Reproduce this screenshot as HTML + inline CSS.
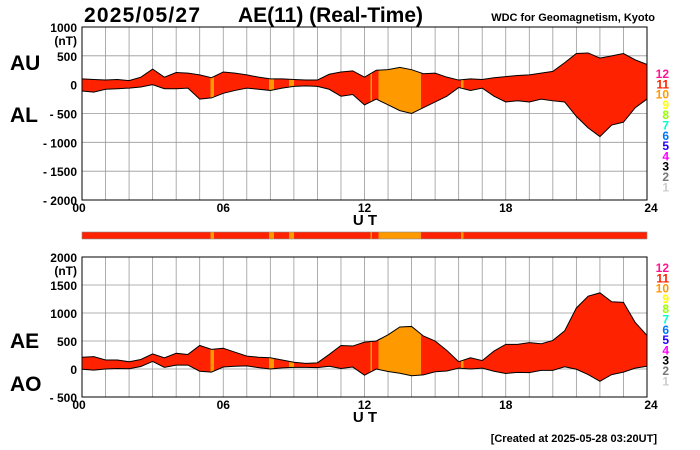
<!DOCTYPE html>
<html><head><meta charset="utf-8"><style>
body{margin:0;background:#fff}
svg{display:block;font-family:"Liberation Sans",Arial,sans-serif}
</style></head><body>
<svg id="c" width="700" height="450" viewBox="0 0 700 450"></svg>
<script>
const hours=[0,0.5,1,1.5,2,2.5,3,3.5,4,4.5,5,5.5,6,6.5,7,7.5,8,8.5,9,9.5,10,10.5,11,11.5,12,12.5,13,13.5,14,14.5,15,15.5,16,16.5,17,17.5,18,18.5,19,19.5,20,20.5,21,21.5,22,22.5,23,23.5,24];
const auValues=[100,90,80,90,70,130,270,130,210,200,170,120,220,200,170,130,100,100,90,80,80,180,220,240,130,250,260,300,260,190,200,130,80,100,90,120,140,160,170,200,230,380,540,550,460,500,540,430,350];
const alValues=[-110,-130,-80,-70,-60,-40,0,-70,-70,-60,-250,-230,-150,-100,-60,-80,-100,-60,-30,-20,-30,-80,-200,-170,-350,-250,-350,-450,-500,-400,-300,-200,-50,-100,-60,-200,-300,-280,-300,-250,-280,-300,-550,-750,-900,-700,-650,-400,-250];
const orangeStart=[5.45,7.95,8.8,12.25,12.6,16.1];
const orangeEnd=[5.6,8.15,9.0,12.32,14.4,16.2];
const topTicks=[1000,500,0,-500,-1000,-1500,-2000];
const botTicks=[2000,1500,1000,500,0,-500];
const xTicks=[0,6,12,18,24];
const xTickLabels=["00","06","12","18","24"];
const legendNums=[12,11,10,9,8,7,6,5,4,3,2,1];
const legendCols=["#ff1493","#ff2200","#ff9900","#ffff00","#99ff00","#00ffcc","#0077ff","#2200ff","#ff00ff","#000","#777","#ccc"];

const NS="http://www.w3.org/2000/svg", svg=document.getElementById('c');
const X0=82,X1=647;
const x=h=>X0+(X1-X0)*h/24;
function el(t,a,p){const e=document.createElementNS(NS,t);for(const k in a)e.setAttribute(k,a[k]);(p||svg).appendChild(e);return e;}
function txt(s,a){const e=el('text',a);e.textContent=s;return e;}

const defs=el('defs',{});
const g=el('linearGradient',{id:'seg',gradientUnits:'userSpaceOnUse',x1:X0,x2:X1,y1:0,y2:0},defs);
let stops=[];
orangeStart.forEach((s,i)=>{stops.push([s/24,'#ff2200'],[s/24,'#ff9900'],[orangeEnd[i]/24,'#ff9900'],[orangeEnd[i]/24,'#ff2200']);});
stops=[[0,'#ff2200']].concat(stops,[[1,'#ff2200']]);
stops.forEach(s=>el('stop',{offset:s[0],'stop-color':s[1]},g));

function panel(name,yTop,yBot,vTop,vBot,ticks,upper,lower,lab1,lab2,ly1,ly2,legTop){
  const y=v=>yTop+(vTop-v)*(yBot-yTop)/(vTop-vBot);
  const grp=el('g',{});
  
  
  for(let h=0;h<=24;h++) el('line',{x1:x(h),x2:x(h),y1:yTop,y2:yBot,stroke:'#999','stroke-width':0.8},grp);
  ticks.forEach(t=>{
    el('line',{x1:X0,x2:X1,y1:y(t),y2:y(t),stroke:'#999','stroke-width':0.8},grp);
    const tl=txt((t<0?'- '+(-t):''+t),{x:X0-5,y:y(t)+5,'text-anchor':'end','font-size':12,'font-weight':'bold'});
    
    
  });
  txt('(nT)',{x:X0-5,y:y(ticks[0])+18,'text-anchor':'end','font-size':12,'font-weight':'bold'});
  const up=hours.map((h,i)=>x(h)+','+y(upper[i]));
  const lo=hours.map((h,i)=>x(h)+','+y(lower[i])).reverse();
  const area=el('polygon',{points:up.concat(lo).join(' '),fill:'url(#seg)',stroke:'none'},grp);
  
  
  const l1=el('polyline',{points:up.join(' '),fill:'none',stroke:'#000','stroke-width':1},grp);
  
  
  const l2=el('polyline',{points:lo.join(' '),fill:'none',stroke:'#000','stroke-width':1},grp);
  
  
  el('rect',{x:X0,y:yTop,width:X1-X0,height:yBot-yTop,fill:'none',stroke:'#000','stroke-width':1},grp);
  xTicks.forEach((t,i)=>{
    const xl=txt(xTickLabels[i],{x:x(t)+(i==0?-3:i==4?4:0),y:yBot+12,'text-anchor':'middle','font-size':12,'font-weight':'bold'});
    
    
  });
  const ut=txt('U T',{x:365,y:yBot+25,'text-anchor':'middle','font-size':15,'font-weight':'bold'});
  
  
  const a1=txt(lab1,{x:10,y:ly1,'font-size':21,'font-weight':'bold'});
  
  
  const a2=txt(lab2,{x:10,y:ly2,'font-size':21,'font-weight':'bold'});
  
  
  legendNums.forEach((n,i)=>{
    const t=txt(''+n,{x:669,y:legTop+i*10.3,'text-anchor':'end','font-size':12,'font-weight':'bold',fill:legendCols[i]});
    
    
  });
}
const aeValues=hours.map((h,i)=>auValues[i]-alValues[i]);
const aoValues=hours.map((h,i)=>(auValues[i]+alValues[i])/2);
panel('au-al',27,200,1000,-2000,topTicks,auValues,alValues,'AU','AL',70,122,78);
panel('ae-ao',257,397,2000,-500,botTicks,aeValues,aoValues,'AE','AO',348,391,272);

const bar=el('rect',{x:X0,y:232,width:X1-X0,height:7,fill:'url(#seg)',stroke:'#888','stroke-width':0.6});



const t1=txt('2025/05/27',{x:84,y:22,'font-size':21,'font-weight':'bold',textLength:116});

const t2=txt('AE(11) (Real-Time)',{x:238,y:22,'font-size':21,'font-weight':'bold',textLength:185});

const t3=txt('WDC for Geomagnetism, Kyoto',{x:655,y:21,'text-anchor':'end','font-size':11,'font-weight':'bold'});

const t4=txt('[Created at 2025-05-28 03:20UT]',{x:657,y:442,'text-anchor':'end','font-size':11,'font-weight':'bold'});

</script>
</body></html>
